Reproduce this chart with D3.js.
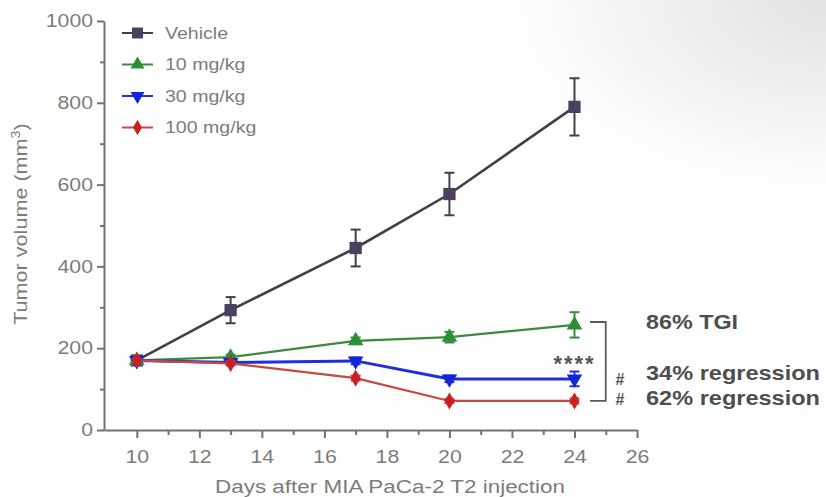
<!DOCTYPE html>
<html><head><meta charset="utf-8">
<script src="https://cdn.jsdelivr.net/npm/d3@7"></script>
<style>html,body{margin:0;padding:0;background:#fff;}svg{display:block;}</style>
</head><body>
<svg id="c" width="826" height="497"></svg>
<script>
// ---- data ----
const days = [10, 13, 17, 20, 24];
const seriesNames = ["Vehicle", "10 mg/kg", "30 mg/kg", "100 mg/kg"];
const vehicle = [170, 293, 445, 577, 790];
const vehicleErr = [5, 32, 45, 52, 70];
const mg10 = [170, 178, 218, 227, 257];
const mg10Err = [5, 6, 8, 13, 31];
const mg30 = [170, 165, 169, 125, 125];
const mg30Err = [5, 5, 8, 8, 18];
const mg100 = [170, 163, 127, 71, 71];
const mg100Err = [4, 5, 6, 5, 6];
const yTicks = [0, 200, 400, 600, 800, 1000];
const yMinor = [100, 300, 500, 700, 900];
const xTicks = [10, 12, 14, 16, 18, 20, 22, 24, 26];
const xMinor = [11, 13, 15, 17, 19, 21, 23, 25];
const annoLabels = ["86% TGI", "34% regression", "62% regression"];
const annoValues = [257, 125, 71];

const svg = d3.select("#c");
const defs = svg.append("defs");
const grad = defs.append("radialGradient").attr("id","bg").attr("cx","100%").attr("cy","0%").attr("r","40%");
grad.append("stop").attr("offset","0%").attr("stop-color","#e2e2e2");
grad.append("stop").attr("offset","100%").attr("stop-color","#ffffff");
svg.append("rect").attr("width",826).attr("height",497).attr("fill","url(#bg)");

const x = d3.scaleLinear().domain([8.95, 26]).range([104, 637]);
const y = d3.scaleLinear().domain([0, 1000]).range([430, 21]);

const axisColor = "#737373", textColor = "#7c7c7c";
const font = "'Liberation Sans', Arial, sans-serif";

function stretch(sel, f){
  sel.each(function(){
    const w = this.getComputedTextLength();
    d3.select(this).attr("textLength", w*f).attr("lengthAdjust","spacingAndGlyphs");
  });
}
function styleAxis(g){
  g.selectAll("path,line").attr("stroke", axisColor).attr("stroke-width", 2);
  g.selectAll("text").attr("fill", textColor).attr("font-family", font).attr("font-size", 18);
}
// y axis
const gy = svg.append("g").attr("transform","translate(104,0)")
  .call(d3.axisLeft(y).tickValues(yTicks).tickFormat(d3.format("d")).tickSize(7).tickSizeOuter(0).tickPadding(4));
styleAxis(gy); stretch(gy.selectAll("text"), 1.18);
const gym = svg.append("g").attr("transform","translate(104,0)")
  .call(d3.axisLeft(y).tickValues(yMinor).tickSize(4).tickSizeOuter(0).tickFormat(""));
styleAxis(gym); gym.select("path").remove();
// x axis
const gx = svg.append("g").attr("transform","translate(0,430)")
  .call(d3.axisBottom(x).tickValues(xTicks).tickSize(8).tickSizeOuter(0).tickPadding(12));
styleAxis(gx); stretch(gx.selectAll("text"), 1.18);
const gxm = svg.append("g").attr("transform","translate(0,430)")
  .call(d3.axisBottom(x).tickValues(xMinor).tickSize(5).tickSizeOuter(0).tickFormat(""));
styleAxis(gxm); gxm.select("path").remove();

// axis titles
svg.append("text").attr("x", 390).attr("y", 493).attr("text-anchor","middle")
  .attr("fill", textColor).attr("font-family", font).attr("font-size", 18)
  .attr("textLength", 350).attr("lengthAdjust","spacingAndGlyphs")
  .text("Days after MIA PaCa-2 T2 injection");
const yt = svg.append("text").attr("transform","translate(27,224) rotate(-90)").attr("text-anchor","middle")
  .attr("fill", textColor).attr("font-family", font).attr("font-size", 18);
yt.append("tspan").text("Tumor volume (mm");
yt.append("tspan").attr("dy",-7).attr("font-size",12).text("3");
yt.append("tspan").attr("dy",7).text(")");
stretch(yt, 1.2);

// series
const series = [
  {name: seriesNames[0], vals: vehicle, err: vehicleErr, line: "#433e4a", fill: "#4d3f5e", sym: d3.symbolSquare, size: 150, lw: 2.6},
  {name: seriesNames[1], vals: mg10, err: mg10Err, line: "#3c8a3e", fill: "#2a8f35", sym: d3.symbolTriangle, size: 105, lw: 2.2},
  {name: seriesNames[2], vals: mg30, err: mg30Err, line: "#1f2fe0", fill: "#1424d8", sym: d3.symbolTriangle, size: 105, lw: 3, rot: 180},
  {name: seriesNames[3], vals: mg100, err: mg100Err, line: "#c8483e", fill: "#cc1f1f", sym: d3.symbolDiamond, size: 85, lw: 2.2}
];

const lineGen = d3.line().x((d,i)=>x(days[i])).y(d=>y(d));
series.forEach(s=>{
  const g = svg.append("g");
  s.vals.forEach((v,i)=>{
    const cx = x(days[i]);
    const t = y(v + s.err[i]), b = y(v - s.err[i]);
    g.append("line").attr("x1",cx).attr("x2",cx).attr("y1",t).attr("y2",b).attr("stroke",s.line).attr("stroke-width",2);
    g.append("line").attr("x1",cx-5).attr("x2",cx+5).attr("y1",t).attr("y2",t).attr("stroke",s.line).attr("stroke-width",2);
    g.append("line").attr("x1",cx-5).attr("x2",cx+5).attr("y1",b).attr("y2",b).attr("stroke",s.line).attr("stroke-width",2);
  });
  g.append("path").datum(s.vals).attr("d", lineGen).attr("fill","none").attr("stroke", s.line).attr("stroke-width", s.lw);
  g.selectAll("path.m").data(s.vals).join("path").attr("class","m")
    .attr("d", d3.symbol().type(s.sym).size(s.size))
    .attr("transform",(d,i)=>`translate(${x(days[i])},${y(d)}) rotate(${s.rot||0})`)
    .attr("fill", s.fill);
});

// legend
series.forEach((s,i)=>{
  const ly = 33 + i*31.5;
  svg.append("line").attr("x1",122).attr("x2",153).attr("y1",ly).attr("y2",ly).attr("stroke",s.line).attr("stroke-width",2);
  svg.append("path").attr("d", d3.symbol().type(s.sym).size(s.size*0.8))
    .attr("transform",`translate(137.5,${ly}) rotate(${s.rot||0})`).attr("fill", s.fill);
  const t = svg.append("text").attr("x",165).attr("y",ly).attr("dy","0.35em").attr("fill",textColor)
    .attr("font-family",font).attr("font-size",17).text(s.name);
  stretch(t, 1.15);
});

// bracket & significance
const bx1 = x(24.5), bx2 = x(25);
const bTop = y(264), bBot = y(71);
svg.append("path").attr("d",`M${bx1},${bTop}H${bx2}V${bBot}H${bx1}`).attr("fill","none")
  .attr("stroke","#5a5a5a").attr("stroke-width",1.8);
svg.append("text").attr("x", x(24) - 1).attr("y", y(183)).attr("dy","0.7em").attr("text-anchor","middle")
  .attr("fill","#555").attr("font-family",font).attr("font-size",22).attr("font-weight","bold")
  .attr("textLength",40).attr("lengthAdjust","spacing").text("****");
[annoValues[1], annoValues[2]].forEach((v,i)=>{
  svg.append("text").attr("x", 620).attr("y", i===0 ? 379 : 399).attr("dy","0.35em").attr("text-anchor","middle")
    .attr("fill","#555").attr("font-family",font).attr("font-size",16).attr("font-weight","bold").text("#");
});
const annoY = [322, 373, 398];
const annoW = [92, 174, 174];
annoLabels.forEach((t,i)=>{
  svg.append("text").attr("x",646).attr("y",annoY[i]).attr("dy","0.35em")
    .attr("fill","#4e4e4e").attr("font-family",font).attr("font-size",21).attr("font-weight","bold")
    .attr("textLength",annoW[i]).attr("lengthAdjust","spacingAndGlyphs").text(t);
});
</script>
</body></html>
